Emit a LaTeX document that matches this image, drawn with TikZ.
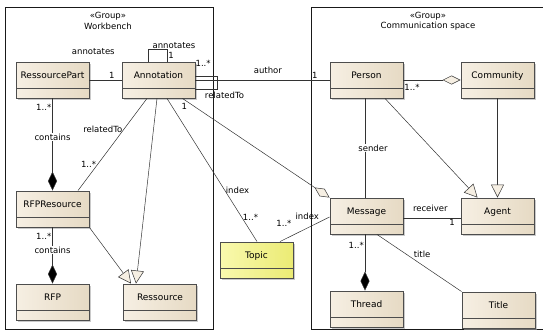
\documentclass[tikz,border=0pt]{standalone}
\usepackage{fontspec}
\setmainfont{DejaVu Sans}
\usetikzlibrary{arrows.meta,shadows}

\definecolor{ClassLeft}{HTML}{F6EFE3}
\definecolor{ClassRight}{HTML}{E6DAC4}
\definecolor{TopicLeft}{HTML}{F9F9AE}
\definecolor{TopicRight}{HTML}{EBEB74}
\definecolor{Edge}{HTML}{4D4D4D}

\tikzset{
  classbox/.style={draw=Edge, line width=0.9pt, minimum width=73pt, minimum height=36pt,
    left color=ClassLeft, right color=ClassRight,
    drop shadow={shadow xshift=1.5pt, shadow yshift=-1.5pt, fill=black!35, opacity=0.6},
    font=\fontsize{9}{10}\selectfont, text height=6pt, text depth=10pt,
    path picture={\draw[Edge, line width=0.9pt] ([yshift=10pt]path picture bounding box.south west) -- ([yshift=10pt]path picture bounding box.south east);}},
  topicbox/.style={classbox, left color=TopicLeft, right color=TopicRight},
  groupframe/.style={draw=black!90, line width=0.7pt},
  grouptitle/.style={font=\fontsize{8.5}{10.5}\selectfont, align=center, inner sep=0pt},
  assoc/.style={draw=black!80, line width=0.5pt},
  lbl/.style={font=\fontsize{8.5}{10}\selectfont, inner sep=1pt},
  gen/.style={assoc, -{Triangle[length=13pt, width=13pt, fill=ClassLeft]}},
  comp/.style={assoc, -{Diamond[length=19pt, width=9pt, fill=black]}},
  aggr/.style={assoc, -{Diamond[length=18pt, width=9pt, fill=ClassLeft]}}
}

\begin{document}
\begin{tikzpicture}[x=1pt, y=-1pt]
 \useasboundingbox (0,0) rectangle (543,333);

 %%%%%%%%%% Groups %%%%%%%%%%
 \draw [groupframe] (5,7) rectangle (213,329);
 \draw [groupframe] (311,7) rectangle (550,329);
 \node [grouptitle] (wbtitle) at (108,21) {«Group»\\Workbench};
 \node [grouptitle] (cstitle) at (428,21) {«Group»\\Communication space};

 %%%%%%%%%% Classes %%%%%%%%%%
 \node [classbox] (respart) at (52.5,80) {RessourcePart};
 \node [classbox] (annot) at (158.5,80) {Annotation};
 \node [classbox] (rfpres) at (52.5,209) {RFPResource};
 \node [classbox] (rfp) at (52.5,302) {RFP};
 \node [classbox] (ressource) at (160,302) {Ressource};
 \node [topicbox] (topic) at (256.5,260) {Topic};
 \node [classbox] (person) at (366.5,80) {Person};
 \node [classbox] (community) at (497.5,80) {Community};
 \node [classbox] (message) at (366.5,216) {Message};
 \node [classbox] (agent) at (497.5,216) {Agent};
 \node [classbox] (thread) at (366.5,309) {Thread};
 \node [classbox] (title) at (498.5,310) {Title};

 %%%%%%%%%% Workbench links %%%%%%%%%%
 \draw [assoc] (respart.east) -- node[lbl, pos=0.7, above] {1} node[lbl, pos=0.12, yshift=28pt] {annotates} (annot.west);
 \draw [assoc] ([xshift=-10.5pt]annot.north) -- ++(0,-12) -| node[lbl, pos=0.5, above, xshift=7pt] {annotates} node[lbl, pos=0.75, right] {1} ([xshift=8.5pt]annot.north);
 \draw [assoc] ([yshift=4pt]annot.east) -- node[lbl, pos=0.35, above=8pt] {1..*} ++(22,0) |- node[lbl, pos=0.5, below=2pt, xshift=7pt] {relatedTo} ([yshift=-9pt]annot.east);
 \draw [comp] (respart.south) -- node[lbl, pos=0.1, left] {1..*} node[lbl, pos=0.42, fill=white] {contains} (rfpres.north);
 \draw [comp] (rfpres.south) -- node[lbl, pos=0.15, left] {1..*} node[lbl, pos=0.4, fill=white] {contains} (rfp.north);
 \draw [assoc] ([xshift=-11.5pt]annot.south) -- node[lbl, pos=0.34, left] {relatedTo} node[lbl, pos=0.72, left] {1..*} ([xshift=25.5pt]rfpres.north);
 \draw [gen] (rfpres.south east) -- ([xshift=-29pt]ressource.north);
 \draw [gen] ([xshift=-1.5pt]annot.south) -- ([xshift=-24pt]ressource.north);

 %%%%%%%%%% Topic links %%%%%%%%%%
 \draw [assoc] ([xshift=8.5pt]annot.south) -- node[lbl, pos=0.64, right] {index} node[lbl, pos=0.83, right] {1..*} ([xshift=0.5pt]topic.north);
 \draw [assoc] ([xshift=23.5pt]topic.north) -- node[lbl, pos=0.08, above=12pt] {1..*} node[lbl, pos=0.55, above=7pt] {index} ([yshift=-1pt]message.west);

 %%%%%%%%%% Cross links %%%%%%%%%%
 \draw [assoc] (annot.east) -- node[lbl, pos=0.54, above=5pt] {author} node[lbl, pos=0.89, above] {1} (person.west);
 \draw [aggr] ([xshift=24pt]annot.south) -- node[lbl, pos=0.04, below left] {1} (message.north west);

 %%%%%%%%%% Communication links %%%%%%%%%%
 \draw [aggr] (person.east) -- node[lbl, pos=0.15, below=3pt] {1..*} (community.west);
 \draw [assoc] ([xshift=-1.5pt]person.south) -- node[lbl, pos=0.5, fill=white, xshift=8pt] {sender} ([xshift=-1.5pt]message.north);
 \draw [gen] ([xshift=18.5pt]person.south) -- ([xshift=-20pt]agent.north);
 \draw [gen] (community.south) -- (agent.north);
 \draw [assoc] ([yshift=-2pt]message.east) -- node[lbl, pos=0.47, above=5pt] {receiver} node[lbl, pos=0.85, below] {1} ([yshift=-2pt]agent.west);
 \draw [comp] ([xshift=-1.5pt]message.south) -- node[lbl, pos=0.2, left] {1..*} ([xshift=-1.5pt]thread.north);
 \draw [assoc] ([xshift=10.5pt]message.south) -- node[lbl, pos=0.42, above right] {title} (title.north west);

\end{tikzpicture}
\end{document}
